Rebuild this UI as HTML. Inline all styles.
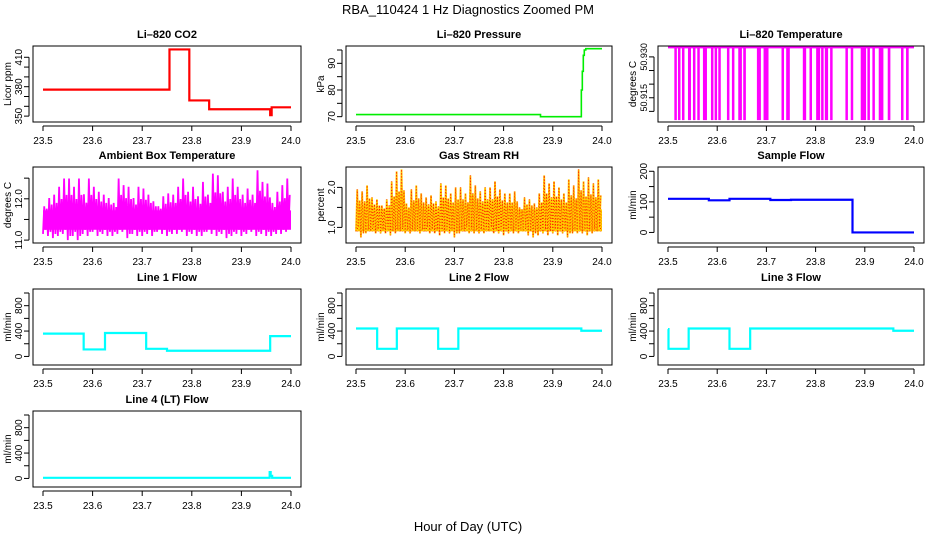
<!DOCTYPE html>
<html><head><meta charset="utf-8"><style>
html,body{margin:0;padding:0;background:#fff;}
svg{display:block;font-family:"Liberation Sans",sans-serif;}
</style></head><body>
<svg id="chart" width="936" height="540" viewBox="0 0 936 540" xmlns="http://www.w3.org/2000/svg">
<defs>
<pattern id="rhdots" width="3" height="3" patternUnits="userSpaceOnUse"><rect width="3" height="3" fill="#ffd700"/><rect x="0" y="0" width="1" height="1" fill="#ff2000"/><rect x="1.5" y="1.5" width="1" height="1" fill="#ff4000"/></pattern>
</defs>
<text x="468" y="14" text-anchor="middle" font-size="13">RBA_110424  1 Hz Diagnostics Zoomed PM</text>
<text x="468" y="531" text-anchor="middle" font-size="13">Hour of Day (UTC)</text>
</svg>
<script>
// ---- data ----
const xTicks = [23.5, 23.6, 23.7, 23.8, 23.9, 24.0];
const co2Breaks = [23.5, 23.755, 23.795, 23.835, 23.958, 23.961, 24.0];
const co2Vals = [377, 418, 366, 357, 351, 359];
const presBreaks = [23.5, 23.875, 23.958, 23.960, 23.962, 23.964, 23.967, 24.0];
const presVals = [70.8, 70.0, 80, 87, 93, 95, 95.5];
const tempTop = 50.9335;
const tempBottom = 50.9068;
const tempDropStart = [23.5129,23.5203,23.5284,23.5406,23.5507,23.5595,23.571,23.5873,23.5947,23.6022,23.6198,23.6299,23.6428,23.6529,23.6807,23.6942,23.7307,23.7402,23.774,23.7876,23.8011,23.8112,23.8187,23.8295,23.8606,23.8714,23.8917,23.9053,23.9154,23.9283,23.9466,23.9736,23.9838];
const tempDropEnd   = [23.5149,23.525,23.5332,23.5467,23.5548,23.5629,23.5792,23.5913,23.5995,23.6062,23.6238,23.6346,23.6502,23.6583,23.6888,23.7043,23.7348,23.7476,23.7808,23.7903,23.8092,23.8146,23.8254,23.8336,23.864,23.8755,23.9026,23.9093,23.9202,23.9378,23.952,23.9777,23.9892];
const ambHi = [11.82,12.02,12.10,12.29,12.49,12.49,12.29,12.49,12.11,12.49,12.29,12.17,12.10,12.02,11.90,12.49,12.33,12.29,12.02,12.29,12.25,12.10,11.94,11.82,12.06,12.13,12.10,12.29,12.49,12.17,12.29,12.06,12.41,12.10,12.61,12.57,12.17,12.29,12.49,12.29,12.10,12.25,12.10,12.69,12.41,12.37,11.90,12.17,12.33,12.49];
const ambLo = [11.15,11.1,11.05,11.1,11.15,11.0,11.1,11.0,11.15,11.1,11.2,11.1,11.15,11.1,11.1,11.15,11.2,11.05,11.15,11.1,11.1,11.15,11.1,11.2,11.15,11.1,11.15,11.15,11.2,11.1,11.15,11.1,11.1,11.2,11.15,11.1,11.15,11.05,11.1,11.15,11.1,11.15,11.2,11.1,11.15,11.1,11.1,11.15,11.15,11.2];
const rhHi = [1.95,1.9,2.05,1.75,1.7,1.55,1.7,2.15,2.4,2.45,1.6,1.95,2.05,1.85,1.75,1.8,1.65,2.1,2.05,1.85,2.0,2.0,1.85,2.3,2.05,1.9,2.0,2.0,2.15,1.95,1.85,1.85,1.9,1.5,1.75,1.7,1.6,1.85,2.3,2.1,2.15,2.0,1.85,2.2,2.05,2.45,2.15,2.25,2.1,2.2];
const rhLo = [0.9,0.75,0.85,0.9,0.85,0.85,0.85,0.8,0.85,0.9,0.85,0.85,0.9,0.85,0.9,0.85,0.85,0.8,0.85,0.85,0.75,0.85,0.9,0.85,0.85,0.85,0.85,0.9,0.85,0.85,0.8,0.85,0.85,0.85,0.9,0.8,0.75,0.8,0.85,0.8,0.85,0.8,0.85,0.75,0.85,0.85,0.85,0.8,0.85,0.9];
const sampBreaks = [23.5, 23.583, 23.625, 23.708, 23.75, 23.875, 24.0];
const sampVals = [110, 105, 110, 106, 107, 0];
const l1Breaks = [23.5, 23.582, 23.625, 23.708, 23.75, 23.958, 24.0];
const l1Vals = [360, 110, 370, 120, 90, 320];
const l2Breaks = [23.5, 23.543, 23.583, 23.667, 23.708, 23.958, 24.0];
const l2Vals = [440, 120, 440, 120, 440, 405];
const l3Breaks = [23.5, 23.501, 23.542, 23.625, 23.667, 23.958, 24.0];
const l3Vals = [430, 120, 440, 120, 440, 405];
const l4Breaks = [23.5, 23.957, 23.959, 23.962, 24.0];
const l4Vals = [10, 100, 40, 10];

// ---- layout ----
const NS = "http://www.w3.org/2000/svg";
const svg = document.getElementById('chart');
const colL = [33, 346, 658], colR = [301, 612, 924];
const rowT = [46, 167, 289, 411], rowH = 76;
function mk(tag, attrs, parent){ const e=document.createElementNS(NS,tag); for(const k in attrs) e.setAttribute(k,attrs[k]); (parent||svg).appendChild(e); return e; }

function panel(name, col, row, title, ylab, ymin, ymax, yticks, ylabels, yfs){
  const L=colL[col], R=colR[col], T=rowT[row], B=T+rowH;
  const g = mk('g',{});
  
  
  const sx = v => (L+10) + (v-23.5)/(0.5)*((R-10)-(L+10));
  const sy = v => B - (v-ymin)/(ymax-ymin)*rowH;
  const t = mk('text',{x:(L+R)/2, y:T-8, 'text-anchor':'middle','font-size':11,'font-weight':'bold'},g);
  t.textContent = title;
  
  
  const yl = mk('text',{x:0,y:0,'text-anchor':'middle','font-size':10,transform:`translate(${L-22},${(T+B)/2}) rotate(-90)`},g);
  yl.textContent = ylab;
  
  
  const ax = mk('g',{},g);
  
  
  mk('line',{x1:sx(23.5),x2:sx(24.0),y1:B+4,y2:B+4,stroke:'#000'},ax);
  xTicks.forEach(v=>{
    mk('line',{x1:sx(v),x2:sx(v),y1:B+4,y2:B+9,stroke:'#000'},ax);
    const tl = mk('text',{x:sx(v),y:B+22,'text-anchor':'middle','font-size':10},ax);
    tl.textContent = v.toFixed(1);
    
    
  });
  const ay = mk('g',{},g);
  
  
  mk('line',{x1:L-4,x2:L-4,y1:sy(yticks[0]),y2:sy(yticks[yticks.length-1]),stroke:'#000'},ay);
  yticks.forEach((v,i)=>{
    mk('line',{x1:L-9,x2:L-4,y1:sy(v),y2:sy(v),stroke:'#000'},ay);
    if(ylabels[i]){
      const tl = mk('text',{x:0,y:0,'text-anchor':'middle','font-size':yfs||10,transform:`translate(${L-11},${sy(v)}) rotate(-90)`},ay);
      tl.textContent = ylabels[i];
      
      
    }
  });
  const clipId = 'clip-'+name;
  const cp = mk('clipPath',{id:clipId},g); mk('rect',{x:L,y:T,width:R-L,height:rowH},cp);
  const plot = mk('g',{'clip-path':`url(#${clipId})`},g);
  
  
  const box = mk('rect',{x:L,y:T,width:R-L,height:rowH,fill:'none',stroke:'#000'},g);
  
  
  return {sx, sy, plot, L, R, T, B};
}
function stepLine(p, breaks, vals, color, w, name){
  let d='';
  for(let i=0;i<vals.length;i++){
    d += (i? 'L':'M') + p.sx(breaks[i]) + ',' + p.sy(vals[i]) + 'L' + p.sx(breaks[i+1]) + ',' + p.sy(vals[i]);
  }
  const e = mk('path',{d, fill:'none', stroke:color, 'stroke-width':w},p.plot);
  
  
}
const flowTicks=[0,200,400,600,800,1000], flowLabels=['0','','400','','800',''];

// CO2
let p = panel('co2',0,0,'Li\u2013820 CO2','Licor ppm',344,421.5,[350,360,370,380,390,400,410],['350','','','380','','','410']);
stepLine(p, co2Breaks, co2Vals, '#ff0000', 2.2, 'co2-series');
// Pressure
p = panel('pressure',1,0,'Li\u2013820 Pressure','kPa',68,96.5,[70,75,80,85,90,95],['70','','80','','90','']);
stepLine(p, presBreaks, presVals, '#00ee00', 1.6, 'pressure-series');
// Temperature
p = panel('li820-temp',2,0,'Li\u2013820 Temperature','degrees C',50.9061,50.934,[50.910,50.915,50.920,50.925,50.930],['','50.915','','','50.930'],9);
{
  const g = mk('g',{},p.plot);
  
  
  mk('line',{x1:p.sx(23.5),x2:p.sx(24.0),y1:p.sy(tempTop),y2:p.sy(tempTop),stroke:'#ff00ff','stroke-width':2},g);
  tempDropStart.forEach((s,i)=>{
    const r = mk('rect',{x:p.sx(s),y:p.sy(tempTop),width:Math.max(2.5,p.sx(tempDropEnd[i])-p.sx(s)),height:p.sy(tempBottom)-p.sy(tempTop),fill:'#ff00ff'},g);
    
    
  });
}
// Ambient
p = panel('ambient-temp',0,1,'Ambient Box Temperature','degrees C',10.93,12.77,[11.0,11.5,12.0,12.5],['11.0','','12.0','']);
{
  const n = ambHi.length, w = 0.5/n;
  let d = '';
  for(let i=0;i<n;i++){
    const x0 = 23.5 + i*w;
    d += (i?'L':'M') + p.sx(x0) + ',' + p.sy(ambLo[i]) + 'L' + p.sx(x0+w*0.25) + ',' + p.sy(ambHi[i]) + 'L' + p.sx(x0+w*0.5) + ',' + p.sy(ambLo[i]+0.1) + 'L' + p.sx(x0+w*0.75) + ',' + p.sy((ambHi[i]+11.7)/2);
  }
  mk('rect',{x:p.sx(23.5),y:p.sy(11.72),width:p.sx(24)-p.sx(23.5),height:p.sy(11.25)-p.sy(11.72),fill:'#ff00ff'},p.plot);
  const e = mk('path',{d,fill:'none',stroke:'#ff00ff','stroke-width':1.8},p.plot);
  
  
}
// RH
p = panel('rh',1,1,'Gas Stream RH','percent',0.61,2.51,[1.0,1.5,2.0],['1.0','','2.0']);
{
  const n = rhHi.length, w = 0.5/n;
  let d = '';
  for(let i=0;i<n;i++){
    const x0 = 23.5 + i*w;
    d += (i?'L':'M') + p.sx(x0) + ',' + p.sy(rhLo[i]) + 'L' + p.sx(x0+w*0.25) + ',' + p.sy(rhHi[i]) + 'L' + p.sx(x0+w*0.5) + ',' + p.sy(rhLo[i]+0.1) + 'L' + p.sx(x0+w*0.75) + ',' + p.sy((rhHi[i]+1.4)/2);
  }
  mk('rect',{x:p.sx(23.5),y:p.sy(1.45),width:p.sx(24)-p.sx(23.5),height:p.sy(0.9)-p.sy(1.45),fill:'url(#rhdots)'},p.plot);
  const e = mk('path',{d,fill:'none',stroke:'#ffcc00','stroke-width':1.8},p.plot);
  
  
  mk('path',{d,fill:'none',stroke:'#ff2000','stroke-width':1,'stroke-dasharray':'1 2'},p.plot);
}
// Sample flow
p = panel('sample-flow',2,1,'Sample Flow','ml/min',-34.5,214,[0,50,100,150,200],['0','','100','','200']);
stepLine(p, sampBreaks, sampVals, '#0000ff', 2.2, 'sample-flow-series');
// Line flows
p = panel('line1-flow',0,2,'Line 1 Flow','ml/min',-135,1063,flowTicks,flowLabels);
stepLine(p, l1Breaks, l1Vals, '#00ffff', 2.2, 'line1-flow-series');
p = panel('line2-flow',1,2,'Line 2 Flow','ml/min',-135,1063,flowTicks,flowLabels);
stepLine(p, l2Breaks, l2Vals, '#00ffff', 2.2, 'line2-flow-series');
p = panel('line3-flow',2,2,'Line 3 Flow','ml/min',-135,1063,flowTicks,flowLabels);
stepLine(p, l3Breaks, l3Vals, '#00ffff', 2.2, 'line3-flow-series');
p = panel('line4-flow',0,3,'Line 4 (LT) Flow','ml/min',-135,1063,flowTicks,flowLabels);
stepLine(p, l4Breaks, l4Vals, '#00ffff', 2.2, 'line4-flow-series');
</script>
</body></html>
